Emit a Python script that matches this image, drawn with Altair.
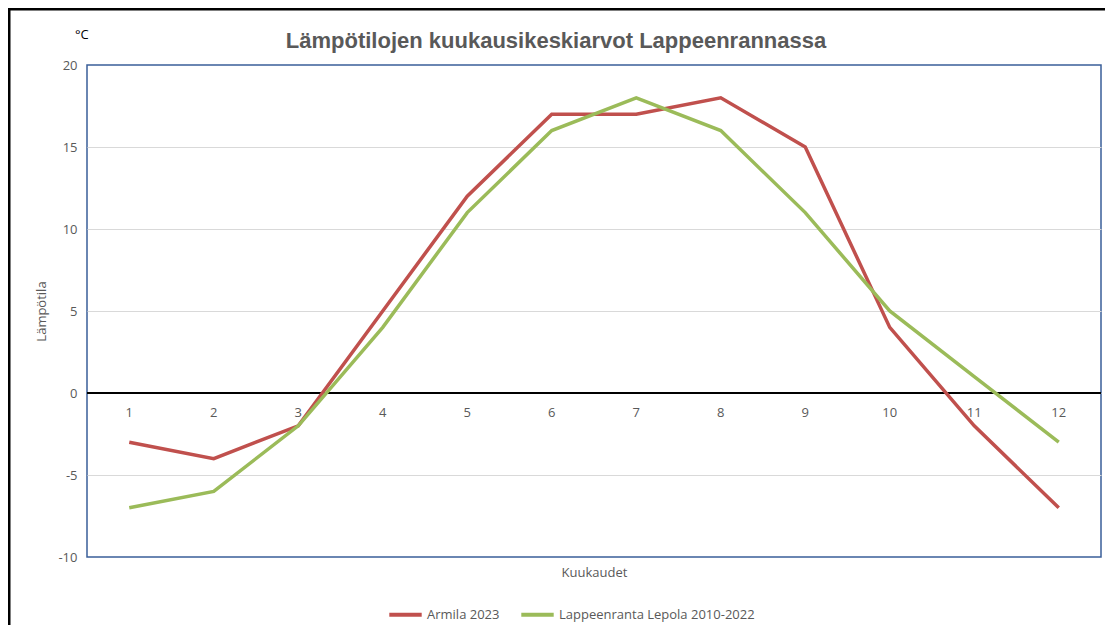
import altair as alt
import pandas as pd

months = [1, 2, 3, 4, 5, 6, 7, 8, 9, 10, 11, 12]
armila_2023 = [-3, -4, -2, 5, 12, 17, 17, 18, 15, 4, -2, -7]
lepola_2010_2022 = [-7, -6, -2, 4, 11, 16, 18, 16, 11, 5, 1, -3]
series_names = ["Armila 2023", "Lappeenranta Lepola 2010-2022"]
series_colors = ["#C0504D", "#9BBB59"]
title_text = "Lämpötilojen kuukausikeskiarvot Lappeenrannassa"
unit_label = "°C"

rows = []
for m, a, l in zip(months, armila_2023, lepola_2010_2022):
    rows.append({"kk": m, "sarja": series_names[0], "arvo": a})
    rows.append({"kk": m, "sarja": series_names[1], "arvo": l})
df = pd.DataFrame(rows)
labels_df = pd.DataFrame({"kk": months, "zero": [0] * len(months)})
one_df = pd.DataFrame({"t": [unit_label], "title": [title_text]})

GRAY = "#595959"
FONT = "Open Sans"
BORDER = "#3A5F99"

x_enc = alt.X("kk:O", scale=alt.Scale(paddingInner=0, paddingOuter=0),
              axis=alt.Axis(labels=False, ticks=False, domain=False, grid=False,
                            title="Kuukaudet", titleFont=FONT, titleFontSize=13,
                            titleFontWeight="normal", titleColor=GRAY, titlePadding=9))
y_scale = alt.Scale(domain=[-10, 20], nice=False)
y_enc = alt.Y("arvo:Q", scale=y_scale,
              axis=alt.Axis(values=[-10, -5, 0, 5, 10, 15, 20], grid=True, gridColor="#D9D9D9",
                            gridWidth=1,
                            gridOpacity={"condition": {"test": "datum.value === 20 || datum.value === -10",
                                                       "value": 0}, "value": 1},
                            domain=False, ticks=False, labelPadding=10,
                            labelExpr="datum.value < 0 ? '-' + abs(datum.value) : '' + datum.value",
                            labelFont=FONT, labelFontSize=13, labelColor=GRAY,
                            title="Lämpötila", titleFont=FONT, titleFontSize=13,
                            titleFontWeight="normal", titleColor=GRAY, titlePadding=9))

lines = alt.Chart(df).mark_line(strokeWidth=3.5).encode(
    x=x_enc,
    y=y_enc,
    color=alt.Color("sarja:N", scale=alt.Scale(domain=series_names, range=series_colors),
                    legend=alt.Legend(orient="none", direction="horizontal", title=None,
                                      legendX=300, legendY=531, symbolType="stroke",
                                      symbolSize=1050, symbolStrokeWidth=4,
                                      labelFont=FONT, labelFontSize=13, labelColor=GRAY,
                                      labelLimit=400,
                                      columnPadding=13, symbolOffset=0, labelOffset=3)),
)

zero_line = alt.Chart(labels_df).mark_rule(color="black", strokeWidth=2).encode(
    y=alt.Y("zero:Q", scale=y_scale),
    x=alt.value(0), x2=alt.value(1014),
)

month_labels = alt.Chart(labels_df).mark_text(
    font=FONT, fontSize=13, color=GRAY, dy=20
).encode(
    x=alt.X("kk:O"),
    y=alt.Y("zero:Q", scale=y_scale),
    text=alt.Text("kk:O"),
)

unit_text = alt.Chart(one_df).mark_text(
    font=FONT, fontSize=13, color="black", align="left", baseline="middle"
).encode(x=alt.value(-12), y=alt.value(-30), text="t:N")

title_mark = alt.Chart(one_df).mark_text(
    font="Liberation Sans", fontSize=22, fontWeight="bold", color=GRAY,
    align="center", baseline="alphabetic"
).encode(x=alt.value(469), y=alt.value(-17), text="title:N")

frame_top = alt.Chart(one_df).mark_rule(color="black", strokeWidth=3).encode(
    x=alt.value(-79), x2=alt.value(1030), y=alt.value(-56)
)
frame_left = alt.Chart(one_df).mark_rule(color="black", strokeWidth=3).encode(
    x=alt.value(-78), y=alt.value(-57), y2=alt.value(590)
)

chart = alt.layer(zero_line, lines, month_labels, unit_text, title_mark,
                  frame_top, frame_left).properties(
    width=1014,
    height=492,
    background="white",
    autosize=alt.AutoSizeParams(type="none"),
    padding={"left": 79, "top": 57, "right": 4, "bottom": 68},
).configure_view(stroke=BORDER, strokeWidth=1.5)

chart.save("out.html", embed_options={"renderer": "svg", "actions": False})
